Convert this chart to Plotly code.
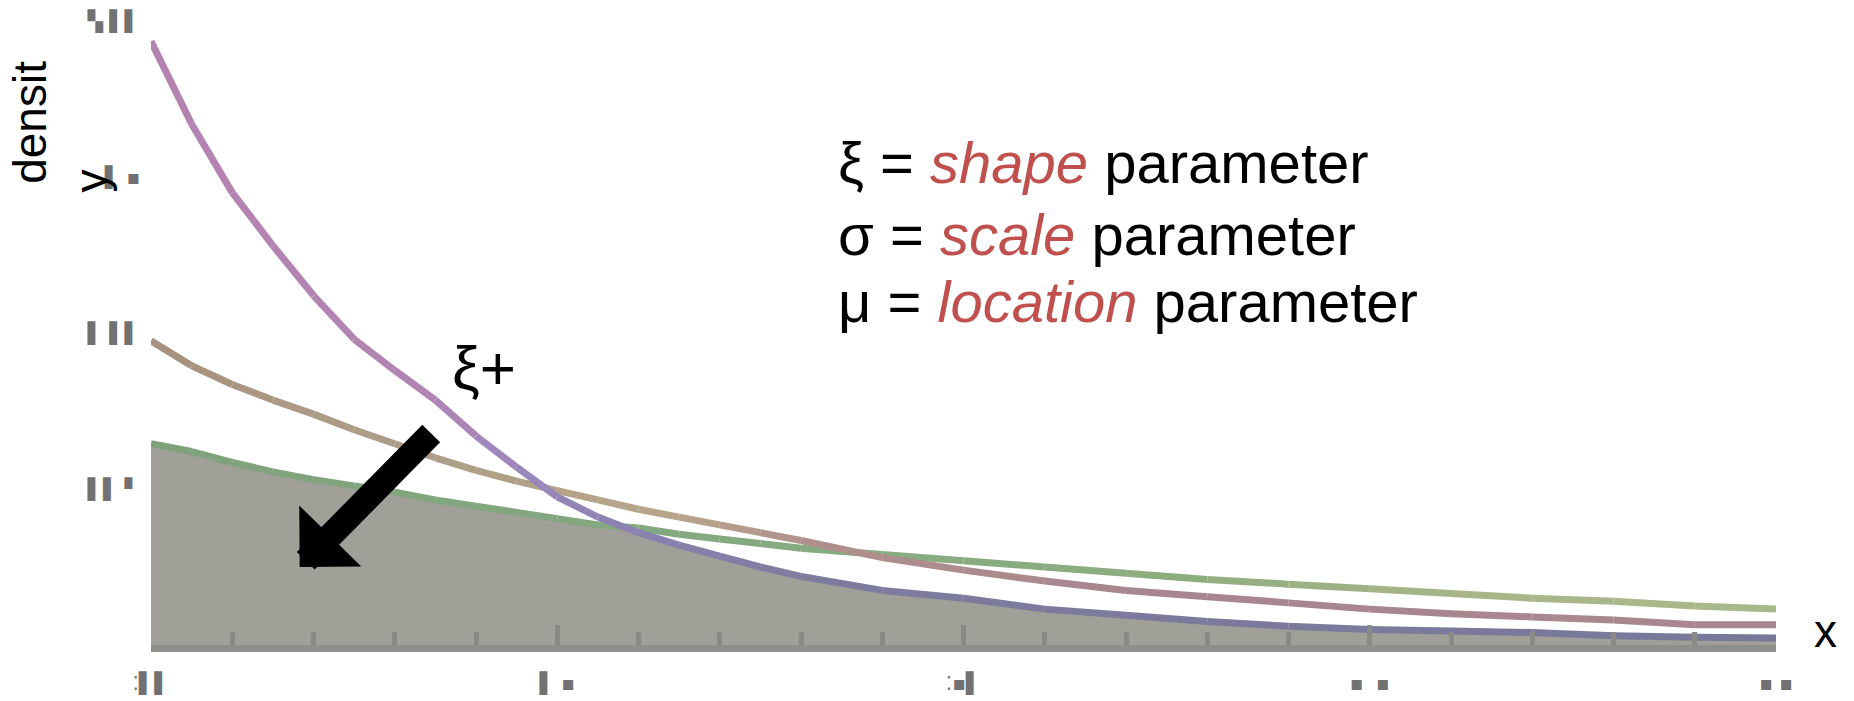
import plotly.graph_objects as go

# Sample positions along x and the three density curves read at them
x_vals = [0, 0.5, 1, 1.5, 2, 2.5, 3, 3.5, 4, 4.5, 5, 5.5, 6, 6.5, 7, 7.5, 8,
          9, 10, 11, 12, 13, 14, 15, 16, 17, 18, 19, 20]

density_steep = [0.387, 0.334, 0.290, 0.256, 0.224, 0.196, 0.176, 0.157, 0.134,
                 0.114, 0.095, 0.082, 0.072, 0.064, 0.057, 0.050, 0.044,
                 0.035, 0.030, 0.023, 0.019, 0.015, 0.012, 0.010, 0.009,
                 0.008, 0.006, 0.005, 0.0045]

density_mid = [0.195, 0.179, 0.167, 0.157, 0.148, 0.138, 0.129, 0.120, 0.112,
               0.105, 0.099, 0.093, 0.087, 0.082, 0.077, 0.072, 0.067,
               0.056, 0.048, 0.041, 0.035, 0.031, 0.027, 0.023, 0.020,
               0.018, 0.016, 0.013, 0.013]

density_flat = [0.129, 0.124, 0.117, 0.111, 0.106, 0.102, 0.098, 0.093, 0.089,
                0.085, 0.081, 0.077, 0.075, 0.071, 0.068, 0.065, 0.062,
                0.058, 0.054, 0.050, 0.046, 0.042, 0.039, 0.036, 0.033,
                0.030, 0.028, 0.025, 0.023]

# Axis ticks and their (fragmentary) labels
x_ticks = [0, 5, 10, 15, 20]
x_tick_text = ["⁚▌▌", "▌ ▪", "⁚▪▌", "▪  ▪", "▪ ▪"]
y_ticks = [0.1, 0.2, 0.3, 0.4]
y_tick_text = ["▌▌ ▘", "▌ ▌▌", "▌ ▪", "▚ ▌▌"]

# Colour stops (fraction of the x range -> colour) for each curve
steep_colors = [(0.0, "#b583b0"), (0.17, "#b184b3"), (0.22, "#9c88bd"),
                (0.3, "#8a82b0"), (0.4, "#7e7c9e"), (1.0, "#78789a")]
mid_colors = [(0.0, "#a8917e"), (0.1, "#ab9a86"), (0.25, "#b3a289"),
              (0.32, "#b9a78b"), (0.4, "#b0908c"), (0.6, "#a8868f"),
              (1.0, "#a8878f")]
flat_colors = [(0.0, "#7fa27c"), (0.4, "#86aa82"), (0.6, "#8aac7e"),
               (0.8, "#a9b588"), (1.0, "#a9b88a")]


def hex_rgb(h):
    h = h.lstrip("#")
    return tuple(int(h[i:i + 2], 16) for i in (0, 2, 4))


def color_at(stops, t):
    for (t0, c0), (t1, c1) in zip(stops[:-1], stops[1:]):
        if t <= t1:
            f = 0 if t1 == t0 else (t - t0) / (t1 - t0)
            a, b = hex_rgb(c0), hex_rgb(c1)
            r, g, bl = (round(a[k] + (b[k] - a[k]) * f) for k in range(3))
            return f"rgb({r},{g},{bl})"
    r, g, bl = hex_rgb(stops[-1][1])
    return f"rgb({r},{g},{bl})"


fig = go.Figure()

# Shaded region under the lowest of the three curves
envelope = [min(a, b, c) for a, b, c in zip(density_steep, density_mid, density_flat)]
fig.add_trace(go.Scatter(
    x=x_vals, y=envelope, mode="lines", fill="tozeroy",
    fillcolor="#a0a098", line=dict(width=0, color="#a0a098"),
    hoverinfo="skip", showlegend=False,
))

# Each curve drawn segment by segment so its colour can drift along x
x_max = x_vals[-1]
for series, stops in ((density_flat, flat_colors),
                      (density_mid, mid_colors),
                      (density_steep, steep_colors)):
    for i in range(len(x_vals) - 1):
        t = (x_vals[i] + x_vals[i + 1]) / 2 / x_max
        fig.add_trace(go.Scatter(
            x=x_vals[i:i + 2], y=series[i:i + 2], mode="lines",
            line=dict(width=7, color=color_at(stops, t)),
            hoverinfo="skip", showlegend=False,
        ))

text_font = "Liberation Sans, Arial, sans-serif"
red = "#c0504d"

annotations = [
    dict(x=8.43, y=0.309, xref="x", yref="y", xanchor="left", yanchor="middle",
         showarrow=False, font=dict(family=text_font, size=58, color="black"),
         text=f"ξ = <i><span style='color:{red}'>shape</span></i> parameter"),
    dict(x=8.43, y=0.263, xref="x", yref="y", xanchor="left", yanchor="middle",
         showarrow=False, font=dict(family=text_font, size=58, color="black"),
         text=f"σ = <i><span style='color:{red}'>scale</span></i> parameter"),
    dict(x=8.43, y=0.220, xref="x", yref="y", xanchor="left", yanchor="middle",
         showarrow=False, font=dict(family=text_font, size=58, color="black"),
         text=f"μ = <i><span style='color:{red}'>location</span></i> parameter"),
    dict(x=4.1, y=0.178, xref="x", yref="y", xanchor="center", yanchor="middle",
         showarrow=False, font=dict(family=text_font, size=62, color="black"),
         text="ξ+"),
    # thick arrow pointing into the shaded region
    dict(x=1.83, y=0.050, xref="x", yref="y", text="", showarrow=True,
         ax=133, ay=-135, arrowhead=1, arrowsize=0.58, arrowwidth=25,
         arrowcolor="black", standoff=0),
    # axis labels
    dict(x=(1826 - 151) / 1625, y=(645 - 631) / 645, xref="paper", yref="paper",
         xanchor="center", yanchor="middle",
         showarrow=False, font=dict(family=text_font, size=46, color="black"),
         text="x"),
    dict(x=-0.0745, y=0.811, xref="paper", yref="paper", xanchor="center",
         yanchor="middle", showarrow=False, textangle=-90,
         font=dict(family=text_font, size=46, color="black"), text="densit"),
    dict(x=-0.037, y=0.720, xref="paper", yref="paper", xanchor="center",
         yanchor="middle", showarrow=False, textangle=-90,
         font=dict(family=text_font, size=46, color="black"), text="y"),
]

tick_font = dict(family="DejaVu Sans", size=20, color="#717171")

fig.update_layout(
    width=1854, height=701,
    margin=dict(l=151, r=78, t=0, b=56, pad=0),
    paper_bgcolor="white", plot_bgcolor="white",
    showlegend=False,
    annotations=annotations,
    xaxis=dict(
        range=[0, 20], showgrid=False, zeroline=False,
        showline=True, linecolor="#8e8e8a", linewidth=7,
        ticks="inside", ticklen=20, tickwidth=5, tickcolor="#8a8a85",
        tickvals=x_ticks, ticktext=x_tick_text, tickfont=tick_font,
        ticklabelstandoff=14,
        minor=dict(ticks="inside", dtick=1, ticklen=13, tickwidth=5,
                   tickcolor="#8a8a85"),
        layer="above traces",
    ),
    yaxis=dict(
        range=[0, 645 / 1560], showgrid=False, zeroline=False,
        showline=False, ticks="",
        tickvals=y_ticks, ticktext=y_tick_text, tickfont=tick_font,
        ticklabelstandoff=10,
    ),
)

fig.write_html("out.html")
